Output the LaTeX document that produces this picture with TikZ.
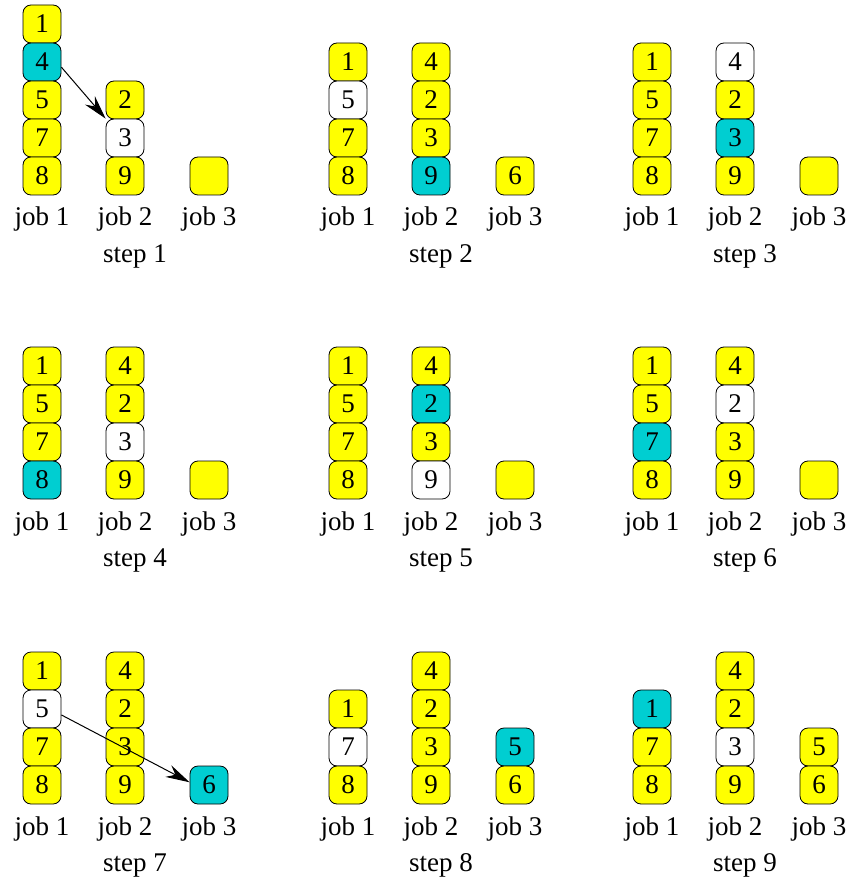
\documentclass[tikz,border=0pt]{standalone}
\usepackage{fontspec}
\setmainfont{Liberation Serif}
\usetikzlibrary{arrows.meta}
\definecolor{byel}{RGB}{255,255,0}
\definecolor{bcyan}{RGB}{0,206,209}
\tikzset{
  jb/.style={draw=black, line width=0.8pt, rounded corners=8pt, minimum width=38pt,
    minimum height=38pt, inner sep=0pt, font=\fontsize{27}{32}\selectfont},
  yb/.style={jb, fill=byel},
  cb/.style={jb, fill=bcyan},
  wb/.style={jb, fill=white},
  lbl/.style={anchor=base, inner sep=0pt, font=\fontsize{27}{32}\selectfont},
  mv/.style={-{Stealth[length=24pt,width=13pt,inset=8pt]}, line width=1pt},
}
\newcommand{\cell}[5]{\node[#4] (#1) at (#2,{176-38*#3}) {#5};}
\newcommand{\joblabels}[1]{%
  \node[lbl] (s#1ja) at (42,226) {job 1};
  \node[lbl] (s#1jb) at (125,226) {job 2};
  \node[lbl] (s#1jc) at (209,226) {job 3};
  \node[lbl] (s#1st) at (135,262) {step #1};}
\begin{document}
\begin{tikzpicture}[x=1pt,y=-1pt]
\useasboundingbox (0,0) rectangle (850,882);
% step 1
\begin{scope}[shift={(0,0)}]
\cell{s1a1}{42}{4}{yb}{1}\cell{s1a4}{42}{3}{cb}{4}\cell{s1a5}{42}{2}{yb}{5}\cell{s1a7}{42}{1}{yb}{7}\cell{s1a8}{42}{0}{yb}{8}
\cell{s1b2}{125}{2}{yb}{2}\cell{s1b3}{125}{1}{wb}{3}\cell{s1b9}{125}{0}{yb}{9}
\cell{s1c0}{209}{0}{yb}{}
\joblabels{1}
\end{scope}
% step 2
\begin{scope}[shift={(306,0)}]
\cell{s2a1}{42}{3}{yb}{1}\cell{s2a5}{42}{2}{wb}{5}\cell{s2a7}{42}{1}{yb}{7}\cell{s2a8}{42}{0}{yb}{8}
\cell{s2b4}{125}{3}{yb}{4}\cell{s2b2}{125}{2}{yb}{2}\cell{s2b3}{125}{1}{yb}{3}\cell{s2b9}{125}{0}{cb}{9}
\cell{s2c6}{209}{0}{yb}{6}
\joblabels{2}
\end{scope}
% step 3
\begin{scope}[shift={(610,0)}]
\cell{s3a1}{42}{3}{yb}{1}\cell{s3a5}{42}{2}{yb}{5}\cell{s3a7}{42}{1}{yb}{7}\cell{s3a8}{42}{0}{yb}{8}
\cell{s3b4}{125}{3}{wb}{4}\cell{s3b2}{125}{2}{yb}{2}\cell{s3b3}{125}{1}{cb}{3}\cell{s3b9}{125}{0}{yb}{9}
\cell{s3c0}{209}{0}{yb}{}
\joblabels{3}
\end{scope}
% step 4
\begin{scope}[shift={(0,304)}]
\cell{s4a1}{42}{3}{yb}{1}\cell{s4a5}{42}{2}{yb}{5}\cell{s4a7}{42}{1}{yb}{7}\cell{s4a8}{42}{0}{cb}{8}
\cell{s4b4}{125}{3}{yb}{4}\cell{s4b2}{125}{2}{yb}{2}\cell{s4b3}{125}{1}{wb}{3}\cell{s4b9}{125}{0}{yb}{9}
\cell{s4c0}{209}{0}{yb}{}
\joblabels{4}
\end{scope}
% step 5
\begin{scope}[shift={(306,304)}]
\cell{s5a1}{42}{3}{yb}{1}\cell{s5a5}{42}{2}{yb}{5}\cell{s5a7}{42}{1}{yb}{7}\cell{s5a8}{42}{0}{yb}{8}
\cell{s5b4}{125}{3}{yb}{4}\cell{s5b2}{125}{2}{cb}{2}\cell{s5b3}{125}{1}{yb}{3}\cell{s5b9}{125}{0}{wb}{9}
\cell{s5c0}{209}{0}{yb}{}
\joblabels{5}
\end{scope}
% step 6
\begin{scope}[shift={(610,304)}]
\cell{s6a1}{42}{3}{yb}{1}\cell{s6a5}{42}{2}{yb}{5}\cell{s6a7}{42}{1}{cb}{7}\cell{s6a8}{42}{0}{yb}{8}
\cell{s6b4}{125}{3}{yb}{4}\cell{s6b2}{125}{2}{wb}{2}\cell{s6b3}{125}{1}{yb}{3}\cell{s6b9}{125}{0}{yb}{9}
\cell{s6c0}{209}{0}{yb}{}
\joblabels{6}
\end{scope}
% step 7
\begin{scope}[shift={(0,609)}]
\cell{s7a1}{42}{3}{yb}{1}\cell{s7a5}{42}{2}{wb}{5}\cell{s7a7}{42}{1}{yb}{7}\cell{s7a8}{42}{0}{yb}{8}
\cell{s7b4}{125}{3}{yb}{4}\cell{s7b2}{125}{2}{yb}{2}\cell{s7b3}{125}{1}{yb}{3}\cell{s7b9}{125}{0}{yb}{9}
\cell{s7c6}{209}{0}{cb}{6}
\joblabels{7}
\end{scope}
% step 8
\begin{scope}[shift={(306,609)}]
\cell{s8a1}{42}{2}{yb}{1}\cell{s8a7}{42}{1}{wb}{7}\cell{s8a8}{42}{0}{yb}{8}
\cell{s8b4}{125}{3}{yb}{4}\cell{s8b2}{125}{2}{yb}{2}\cell{s8b3}{125}{1}{yb}{3}\cell{s8b9}{125}{0}{yb}{9}
\cell{s8c5}{209}{1}{cb}{5}\cell{s8c6}{209}{0}{yb}{6}
\joblabels{8}
\end{scope}
% step 9
\begin{scope}[shift={(610,609)}]
\cell{s9a1}{42}{2}{cb}{1}\cell{s9a7}{42}{1}{yb}{7}\cell{s9a8}{42}{0}{yb}{8}
\cell{s9b4}{125}{3}{yb}{4}\cell{s9b2}{125}{2}{yb}{2}\cell{s9b3}{125}{1}{wb}{3}\cell{s9b9}{125}{0}{yb}{9}
\cell{s9c5}{209}{1}{yb}{5}\cell{s9c6}{209}{0}{yb}{6}
\joblabels{9}
\end{scope}
% moves
\draw[mv] (s1a4.-15) -- (s1b3.north west);
\draw[mv] (s7a5.-17) -- (s7c6.172);
\end{tikzpicture}
\end{document}
